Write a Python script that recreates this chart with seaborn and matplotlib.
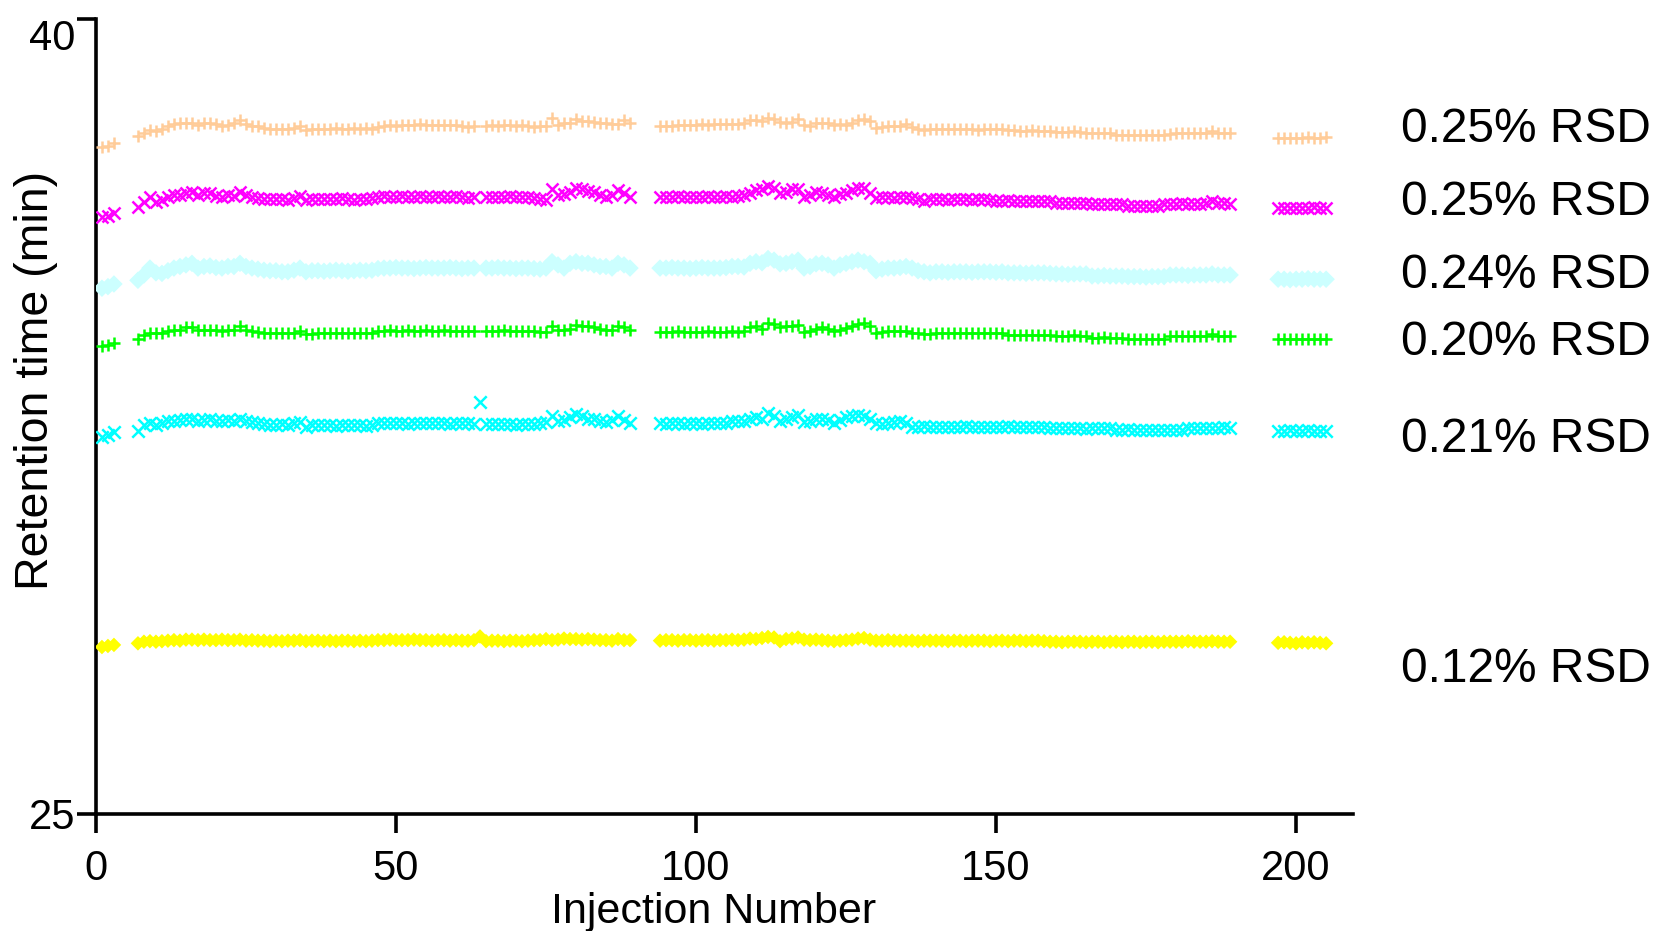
import numpy as np
import pandas as pd
import seaborn as sns
import matplotlib.pyplot as plt

# injection numbers (gaps where runs are missing)
inj = [1, 2, 3] + list(range(7, 64)) + list(range(65, 90)) + list(range(94, 190)) + list(range(197, 206))
inj_64 = [1, 2, 3] + list(range(7, 90)) + list(range(94, 190)) + list(range(197, 206))

orange = [
    37.59, 37.61, 37.66,
    37.79, 37.84, 37.91, 37.89, 37.92, 37.98, 38.02, 38.03, 38.04, 38.04,
    38.00, 38.03, 38.04, 38.02, 37.98, 38.00, 38.03, 38.09, 38.02, 37.98,
    37.98, 37.94, 37.92, 37.92, 37.92, 37.92, 37.94, 37.98, 37.90, 37.92,
    37.92, 37.93, 37.92, 37.94, 37.92, 37.93, 37.94, 37.92, 37.95, 37.93,
    37.97, 37.99, 38.00, 37.99, 38.00, 38.00, 38.00, 38.01, 38.00, 38.00,
    38.00, 38.00, 38.00, 38.00, 37.99, 37.97, 37.99,
    37.99, 38.00, 37.99, 38.00, 38.00, 37.99, 38.00, 37.98, 37.96, 37.98,
    37.99, 38.13, 38.00, 38.03, 38.04, 38.12, 38.08, 38.08, 38.06, 38.03,
    38.03, 38.02, 38.02, 38.09, 38.03,
    37.98, 37.99, 37.99, 38.00, 38.00, 38.00, 38.00, 38.01, 38.00, 38.01,
    38.02, 38.02, 38.02, 38.02, 38.03, 38.09, 38.10, 38.08, 38.14, 38.12,
    38.06, 38.04, 38.06, 38.11, 38.00, 37.98, 38.03, 38.04, 38.03, 38.00,
    38.02, 38.00, 38.04, 38.09, 38.12, 38.08, 37.94, 37.97, 37.98, 37.98,
    37.98, 38.02, 37.97, 37.92, 37.91, 37.92, 37.92, 37.93, 37.92, 37.92,
    37.93, 37.92, 37.92, 37.91, 37.92, 37.92, 37.93, 37.92, 37.91, 37.90,
    37.89, 37.89, 37.90, 37.89, 37.89, 37.89, 37.87, 37.86, 37.86, 37.89,
    37.86, 37.85, 37.84, 37.84, 37.85, 37.84, 37.82, 37.82, 37.81, 37.81,
    37.81, 37.82, 37.81, 37.81, 37.82, 37.83, 37.84, 37.84, 37.84, 37.84,
    37.84, 37.84, 37.88, 37.84, 37.84, 37.84,
    37.75, 37.75, 37.75, 37.76, 37.75, 37.78, 37.75, 37.76, 37.78,
]

magenta = [
    36.26, 36.28, 36.33,
    36.46, 36.55, 36.64, 36.55, 36.59, 36.65, 36.68, 36.68, 36.71, 36.74,
    36.68, 36.71, 36.71, 36.66, 36.65, 36.68, 36.66, 36.74, 36.68, 36.65,
    36.62, 36.60, 36.60, 36.60, 36.60, 36.59, 36.62, 36.66, 36.59, 36.60,
    36.60, 36.60, 36.61, 36.60, 36.62, 36.60, 36.59, 36.61, 36.60, 36.62,
    36.65, 36.66, 36.64, 36.65, 36.66, 36.65, 36.64, 36.66, 36.65, 36.65,
    36.66, 36.64, 36.65, 36.66, 36.65, 36.63, 36.64,
    36.65, 36.64, 36.65, 36.65, 36.66, 36.65, 36.64, 36.64, 36.62, 36.60,
    36.59, 36.80, 36.68, 36.70, 36.74, 36.81, 36.79, 36.76, 36.74, 36.68,
    36.65, 36.68, 36.77, 36.71, 36.65,
    36.65, 36.64, 36.65, 36.66, 36.65, 36.65, 36.64, 36.65, 36.66, 36.65,
    36.65, 36.66, 36.65, 36.66, 36.67, 36.71, 36.77, 36.79, 36.85, 36.82,
    36.71, 36.74, 36.79, 36.79, 36.65, 36.68, 36.74, 36.72, 36.68, 36.65,
    36.70, 36.72, 36.77, 36.82, 36.81, 36.71, 36.62, 36.64, 36.65, 36.62,
    36.64, 36.65, 36.62, 36.60, 36.57, 36.60, 36.60, 36.60, 36.59, 36.60,
    36.60, 36.60, 36.59, 36.60, 36.60, 36.59, 36.57, 36.57, 36.58, 36.57,
    36.57, 36.57, 36.56, 36.57, 36.57, 36.56, 36.52, 36.52, 36.53, 36.52,
    36.52, 36.52, 36.51, 36.51, 36.50, 36.51, 36.51, 36.50, 36.47, 36.47,
    36.47, 36.48, 36.47, 36.47, 36.51, 36.51, 36.51, 36.52, 36.51, 36.51,
    36.51, 36.52, 36.57, 36.52, 36.52, 36.51,
    36.43, 36.43, 36.43, 36.44, 36.43, 36.43, 36.45, 36.44, 36.43,
]

light_cyan = [
    34.92, 34.95, 35.00,
    35.07, 35.17, 35.30, 35.21, 35.20, 35.25, 35.30, 35.33, 35.36, 35.39,
    35.30, 35.33, 35.34, 35.31, 35.30, 35.33, 35.33, 35.39, 35.33, 35.30,
    35.28, 35.26, 35.25, 35.25, 35.23, 35.23, 35.26, 35.30, 35.23, 35.25,
    35.25, 35.24, 35.25, 35.26, 35.25, 35.24, 35.25, 35.26, 35.25, 35.26,
    35.29, 35.30, 35.30, 35.31, 35.30, 35.30, 35.29, 35.30, 35.31, 35.30,
    35.30, 35.30, 35.31, 35.30, 35.29, 35.30, 35.30,
    35.30, 35.30, 35.31, 35.30, 35.30, 35.29, 35.30, 35.30, 35.29, 35.28,
    35.30, 35.42, 35.36, 35.30, 35.39, 35.42, 35.39, 35.39, 35.36, 35.33,
    35.33, 35.30, 35.39, 35.36, 35.30,
    35.30, 35.30, 35.31, 35.30, 35.30, 35.29, 35.30, 35.31, 35.30, 35.30,
    35.30, 35.31, 35.33, 35.33, 35.32, 35.39, 35.42, 35.40, 35.48, 35.45,
    35.38, 35.39, 35.42, 35.45, 35.30, 35.33, 35.38, 35.39, 35.36, 35.30,
    35.36, 35.39, 35.42, 35.45, 35.42, 35.39, 35.25, 35.28, 35.30, 35.30,
    35.31, 35.33, 35.30, 35.25, 35.23, 35.21, 35.23, 35.23, 35.22, 35.23,
    35.23, 35.23, 35.22, 35.23, 35.23, 35.23, 35.22, 35.23, 35.21, 35.21,
    35.21, 35.20, 35.21, 35.21, 35.21, 35.20, 35.19, 35.19, 35.18, 35.19,
    35.19, 35.19, 35.15, 35.15, 35.16, 35.15, 35.15, 35.15, 35.14, 35.14,
    35.14, 35.13, 35.14, 35.14, 35.14, 35.17, 35.17, 35.17, 35.16, 35.17,
    35.17, 35.17, 35.19, 35.17, 35.17, 35.17,
    35.09, 35.09, 35.08, 35.09, 35.09, 35.10, 35.09, 35.09, 35.09,
]

green = [
    33.83, 33.85, 33.89,
    33.96, 34.04, 34.08, 34.07, 34.08, 34.12, 34.13, 34.14, 34.18, 34.18,
    34.14, 34.14, 34.14, 34.13, 34.12, 34.14, 34.14, 34.20, 34.14, 34.12,
    34.10, 34.08, 34.07, 34.07, 34.07, 34.07, 34.08, 34.12, 34.06, 34.06,
    34.07, 34.07, 34.08, 34.07, 34.07, 34.08, 34.07, 34.07, 34.08, 34.07,
    34.12, 34.12, 34.13, 34.12, 34.12, 34.13, 34.12, 34.12, 34.13, 34.12,
    34.12, 34.13, 34.12, 34.12, 34.12, 34.11, 34.12,
    34.12, 34.12, 34.12, 34.13, 34.12, 34.12, 34.12, 34.12, 34.11, 34.10,
    34.10, 34.21, 34.14, 34.13, 34.16, 34.23, 34.20, 34.20, 34.18, 34.16,
    34.14, 34.14, 34.20, 34.18, 34.13,
    34.10, 34.10, 34.10, 34.11, 34.10, 34.10, 34.10, 34.10, 34.11, 34.10,
    34.10, 34.10, 34.11, 34.10, 34.11, 34.18, 34.20, 34.16, 34.27, 34.25,
    34.18, 34.20, 34.21, 34.22, 34.10, 34.12, 34.16, 34.18, 34.16, 34.12,
    34.14, 34.17, 34.20, 34.25, 34.26, 34.20, 34.07, 34.10, 34.11, 34.11,
    34.12, 34.12, 34.08, 34.07, 34.06, 34.06, 34.07, 34.07, 34.07, 34.07,
    34.07, 34.07, 34.07, 34.07, 34.07, 34.07, 34.07, 34.07, 34.04, 34.04,
    34.04, 34.04, 34.04, 34.04, 34.04, 34.04, 34.02, 34.02, 34.02, 34.03,
    34.02, 34.02, 33.99, 33.99, 34.00, 33.99, 33.99, 33.99, 33.97, 33.97,
    33.97, 33.97, 33.97, 33.97, 33.97, 34.01, 34.01, 34.01, 34.01, 34.01,
    34.01, 34.01, 34.05, 34.01, 34.01, 34.01,
    33.96, 33.96, 33.96, 33.96, 33.96, 33.96, 33.96, 33.96, 33.96,
]

cyan = [
    32.12, 32.16, 32.20,
    32.23, 32.33, 32.37, 32.33, 32.37, 32.41, 32.42, 32.43, 32.45, 32.46,
    32.42, 32.43, 32.45, 32.42, 32.41, 32.43, 32.42, 32.46, 32.41, 32.39,
    32.37, 32.35, 32.33, 32.33, 32.35, 32.33, 32.37, 32.39, 32.31, 32.33,
    32.33, 32.34, 32.33, 32.32, 32.33, 32.34, 32.33, 32.33, 32.32, 32.33,
    32.37, 32.37, 32.38, 32.37, 32.37, 32.36, 32.37, 32.37, 32.38, 32.37,
    32.37, 32.37, 32.36, 32.37, 32.37, 32.37, 32.36,
    32.78,
    32.35, 32.35, 32.36, 32.35, 32.35, 32.34, 32.35, 32.35, 32.36, 32.37,
    32.39, 32.51, 32.41, 32.43, 32.49, 32.54, 32.51, 32.46, 32.45, 32.41,
    32.39, 32.43, 32.51, 32.43, 32.37,
    32.37, 32.36, 32.37, 32.37, 32.36, 32.37, 32.37, 32.36, 32.37, 32.37,
    32.37, 32.37, 32.41, 32.41, 32.41, 32.46, 32.49, 32.46, 32.56, 32.51,
    32.41, 32.45, 32.49, 32.52, 32.39, 32.41, 32.45, 32.46, 32.43, 32.37,
    32.43, 32.49, 32.51, 32.52, 32.51, 32.46, 32.37, 32.35, 32.37, 32.39,
    32.41, 32.37, 32.31, 32.31, 32.32, 32.31, 32.31, 32.30, 32.31, 32.31,
    32.31, 32.32, 32.31, 32.31, 32.30, 32.31, 32.31, 32.31, 32.32, 32.31,
    32.31, 32.30, 32.31, 32.31, 32.31, 32.28, 32.28, 32.29, 32.28, 32.28,
    32.28, 32.27, 32.28, 32.28, 32.28, 32.28, 32.25, 32.25, 32.26, 32.25,
    32.25, 32.25, 32.24, 32.25, 32.25, 32.25, 32.25, 32.25, 32.29, 32.29,
    32.29, 32.28, 32.29, 32.29, 32.30, 32.29,
    32.22, 32.23, 32.24, 32.23, 32.22, 32.24, 32.23, 32.23, 32.22,
]

yellow = [
    28.15, 28.17, 28.19,
    28.22, 28.25, 28.26, 28.25, 28.26, 28.27, 28.28, 28.27, 28.29, 28.29,
    28.28, 28.29, 28.28, 28.28, 28.29, 28.28, 28.28, 28.29, 28.27, 28.28,
    28.27, 28.27, 28.26, 28.27, 28.26, 28.27, 28.27, 28.28, 28.26, 28.27,
    28.27, 28.26, 28.27, 28.26, 28.27, 28.27, 28.26, 28.27, 28.26, 28.27,
    28.28, 28.28, 28.29, 28.28, 28.28, 28.28, 28.29, 28.28, 28.28, 28.27,
    28.28, 28.28, 28.27, 28.28, 28.27, 28.27, 28.28,
    28.35,
    28.26, 28.27, 28.27, 28.26, 28.27, 28.27, 28.26, 28.27, 28.28, 28.28,
    28.30, 28.28, 28.29, 28.31, 28.30, 28.30, 28.29, 28.30, 28.29, 28.28,
    28.28, 28.27, 28.30, 28.28, 28.28,
    28.27, 28.28, 28.28, 28.27, 28.28, 28.28, 28.27, 28.28, 28.28, 28.27,
    28.28, 28.28, 28.29, 28.28, 28.29, 28.31, 28.30, 28.32, 28.34, 28.33,
    28.26, 28.30, 28.31, 28.33, 28.29, 28.28, 28.29, 28.28, 28.27, 28.26,
    28.27, 28.28, 28.29, 28.31, 28.32, 28.29, 28.27, 28.27, 28.28, 28.27,
    28.27, 28.27, 28.27, 28.26, 28.27, 28.27, 28.27, 28.27, 28.26, 28.27,
    28.27, 28.26, 28.27, 28.27, 28.27, 28.26, 28.27, 28.27, 28.26, 28.27,
    28.27, 28.26, 28.27, 28.27, 28.26, 28.25, 28.25, 28.24, 28.25, 28.25,
    28.25, 28.24, 28.25, 28.25, 28.24, 28.25, 28.25, 28.24, 28.25, 28.25,
    28.24, 28.25, 28.25, 28.24, 28.25, 28.25, 28.25, 28.25, 28.26, 28.25,
    28.25, 28.25, 28.26, 28.25, 28.25, 28.25,
    28.23, 28.24, 28.23, 28.22, 28.24, 28.23, 28.24, 28.23, 28.22,
]

rsd_labels = ['0.25% RSD', '0.25% RSD', '0.24% RSD', '0.20% RSD', '0.21% RSD', '0.12% RSD']
label_y = [37.91, 36.53, 35.16, 33.89, 32.06, 27.72]

series = [
    (inj, orange, '#FFCC99', '+', 85, 1.8),
    (inj, magenta, '#FF00FF', 'x', 75, 1.8),
    (inj, light_cyan, '#CCFFFF', 'D', 80, 0),
    (inj, green, '#00FF00', '+', 85, 1.8),
    (inj_64, cyan, '#00FFFF', 'x', 80, 1.8),
    (inj_64, yellow, '#FFFF00', 'D', 55, 0),
]

sns.set_style("ticks")
plt.rcParams['font.family'] = ['Liberation Sans', 'DejaVu Sans']
plt.rcParams['text.color'] = 'black'
plt.rcParams['axes.labelcolor'] = 'black'
plt.rcParams['xtick.color'] = 'black'
plt.rcParams['ytick.color'] = 'black'

fig = plt.figure(figsize=(16.57, 9.31), dpi=100)
ax = fig.add_axes([0.0579, 0.1257, 0.7587, 0.8539])

for xs, ys, col, mk, size, lw in series:
    assert len(xs) == len(ys), (col, len(xs), len(ys))
    df = pd.DataFrame({'x': xs, 'y': ys})
    if mk in ('+', 'x'):
        sns.scatterplot(data=df, x='x', y='y', marker=mk, s=size, color=col,
                        linewidth=lw, ax=ax, zorder=3)
    else:
        sns.scatterplot(data=df, x='x', y='y', marker=mk, s=size, color=col,
                        edgecolor='none', ax=ax, zorder=3)

for txt, yy in zip(rsd_labels, label_y):
    ax.text(217.5, yy, txt, fontsize=34.5, va='center', ha='left', color='black', clip_on=False)

ax.set_xlim(0, 209.5)
ax.set_ylim(25, 40)
ax.set_xticks([0, 50, 100, 150, 200])
ax.set_yticks([25, 40])

for side in ['top', 'right']:
    ax.spines[side].set_visible(False)
for side in ['left', 'bottom']:
    ax.spines[side].set_linewidth(2.6)
    ax.spines[side].set_color('black')

ax.tick_params(axis='both', length=14, width=2.6, labelsize=30, color='black', labelcolor='black')
ax.tick_params(axis='y', pad=1)
ax.tick_params(axis='x', pad=11)
# top y label sits just under its tick, as in the original
ax.get_yticklabels()[1].set_va('top')

ax.set_xlabel('Injection Number', fontsize=31)
ax.set_ylabel('Retention time (min)', fontsize=33.5)
ax.xaxis.set_label_coords(0.491, -0.1235)
ax.xaxis.label.set_va('center')
ax.yaxis.set_label_coords(-0.048, 0.545)
ax.yaxis.label.set_va('center')

fig.savefig('out.png', dpi=100)
